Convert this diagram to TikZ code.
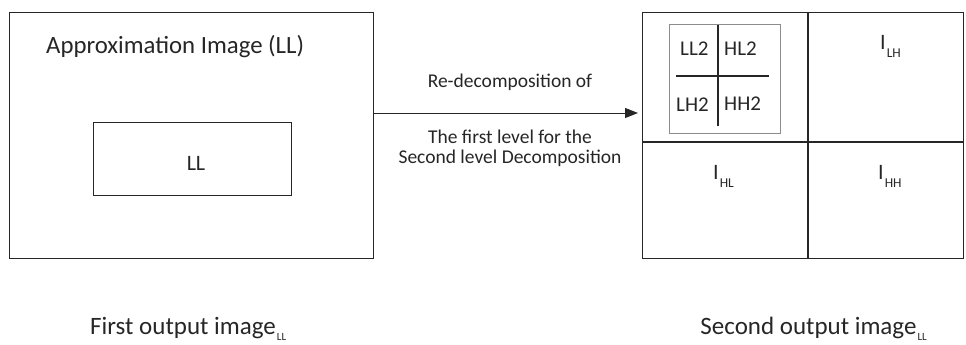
\documentclass[tikz,border=0pt]{standalone}
\usepackage{fontspec}
\setmainfont{Carlito}
\usetikzlibrary{arrows.meta}
\newcommand{\fs}[1]{\fontsize{#1}{#1}\selectfont}
\newcommand{\sub}[1]{\hspace{1pt}\raisebox{-8pt}{\fs{13.5}#1}}
\newcommand{\tinysub}[1]{\hspace{1pt}\raisebox{-6.5pt}{\fs{11}#1}}
\tikzset{
  box/.style={draw=black!85, line width=1.2pt},
  graybox/.style={draw=black!45, line width=1.2pt},
  lbl/.style={inner sep=0pt, text=black!85},
}
\begin{document}
\begin{tikzpicture}[x=1pt,y=-1pt]
\useasboundingbox (0,0) rectangle (966,345);
% left image
\node[box, minimum width=364pt, minimum height=246pt, anchor=north west, inner sep=0pt] (left) at (9,12) {};
\node[lbl, anchor=base west, font=\fs{24.8}] (approx) at (46,53) {Approximation Image (LL)};
\node[box, minimum width=198pt, minimum height=73pt, anchor=north west, inner sep=0pt] (llbox) at (93,122) {};
\node[lbl, anchor=base, font=\fs{22}] (ll) at (196,170) {LL};
% right image
\node[box, minimum width=321pt, minimum height=246pt, anchor=north west, inner sep=0pt] (right) at (642,12) {};
\coordinate (mt) at (808,12);
\coordinate (mb) at (808,258);
\coordinate (ml) at (642,142);
\coordinate (mr) at (963,142);
\draw[box] (mt) -- (mb);
\draw[box] (ml) -- (mr);
\node[graybox, minimum width=111pt, minimum height=109pt, anchor=north west, inner sep=0pt] (sub) at (669,24) {};
\coordinate (ct) at (718,25);
\coordinate (cb) at (718,126);
\coordinate (cl) at (676,76);
\coordinate (cr) at (769,76);
\draw[box] (ct) -- (cb);
\draw[box] (cl) -- (cr);
\node[lbl, anchor=base west, font=\fs{21}] (ll2) at (680,56) {LL2};
\node[lbl, anchor=base west, font=\fs{21}] (hl2) at (724,56) {HL2};
\node[lbl, anchor=base west, font=\fs{21}] (lh2) at (676,111) {LH2};
\node[lbl, anchor=base west, font=\fs{21}] (hh2) at (724,110) {HH2};
\node[lbl, anchor=base west, font=\fs{22}] (ilh) at (880,49) {I\sub{LH}};
\node[lbl, anchor=base west, font=\fs{22}] (ihl) at (713,179) {I\sub{HL}};
\node[lbl, anchor=base west, font=\fs{22}] (ihh) at (878,179) {I\sub{HH}};
% arrow
\coordinate (as) at (373,113);
\coordinate (ae) at (638,113);
\draw[black!85, line width=1pt, -{Triangle[length=13pt,width=10pt]}] (as) -- (ae);
\node[lbl, anchor=base, font=\fs{19.5}] (redec) at (510,87) {Re-decomposition of};
\node[lbl, anchor=base, font=\fs{19.5}] (first) at (510,143) {The first level for the};
\node[lbl, anchor=base, font=\fs{19.5}] (second) at (510,163) {Second level Decomposition};
% bottom captions
\node[lbl, anchor=base west, font=\fs{25}] (cap1) at (90,334) {First output image\tinysub{LL}};
\node[lbl, anchor=base east, font=\fs{25}] (cap2) at (927,334) {Second output image\tinysub{LL}};
\end{tikzpicture}
\end{document}
